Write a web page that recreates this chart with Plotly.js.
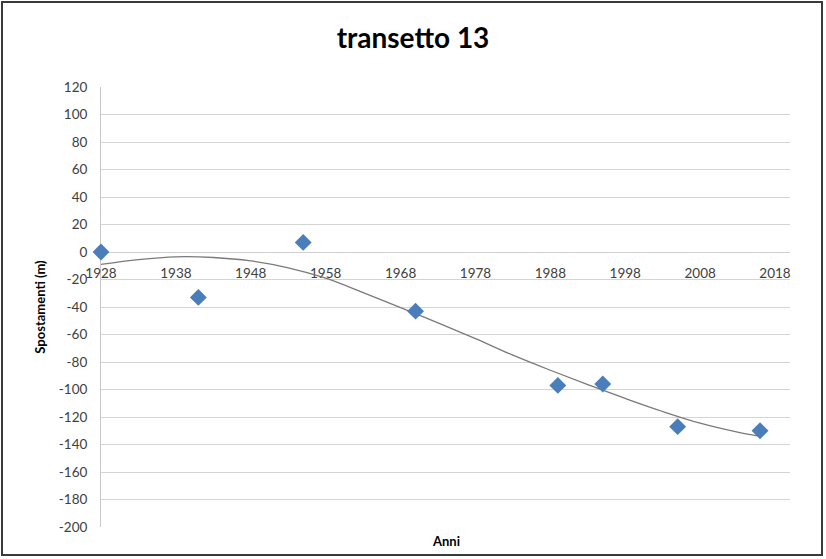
<!DOCTYPE html>
<html>
<head>
<meta charset="utf-8">
<script src="https://cdn.plot.ly/plotly-3.0.1.min.js"></script>
<style>
  html, body { margin: 0; padding: 0; background: #fff; }
  #wrap { position: relative; width: 826px; height: 559px; }
  #chart { width: 826px; height: 559px; }
  #frame { position: absolute; left: 1px; top: 1px; width: 818px; height: 551px;
           border: 2px solid #3a3a3a; pointer-events: none; }
</style>
</head>
<body>
<div id="wrap"><div id="chart"></div><div id="frame"></div></div>
<script>
// Observed data (year, displacement in m)
const years = [1928, 1941, 1955, 1970, 1989, 1995, 2005, 2016];
const spostamenti = [0, -33, 7, -43, -97, -96, -127, -130];

// Trendline
const trendYears = [1928, 1933, 1938, 1943, 1948, 1953, 1958, 1963, 1968, 1973, 1978, 1983, 1988, 1993, 1998, 2003, 2008, 2013, 2016];
const trendValues = [-9, -5.5, -3.5, -4, -6.5, -11.5, -19, -29.5, -40.5, -51.5, -63, -75, -86, -96.5, -106.5, -116, -124.5, -131, -134];

const xTicks = [1928, 1938, 1948, 1958, 1968, 1978, 1988, 1998, 2008, 2018];
const yTicks = [120, 100, 80, 60, 40, 20, 0, -20, -40, -60, -80, -100, -120, -140, -160, -180, -200];

const fontFam = 'Lato, "Open Sans", "Liberation Sans", sans-serif';

const traces = [
  {
    x: trendYears, y: trendValues, type: 'scatter', mode: 'lines',
    line: { color: '#7a7a7a', width: 1.3, shape: 'spline', smoothing: 1 },
    hoverinfo: 'skip', showlegend: false, cliponaxis: false
  },
  {
    x: years, y: spostamenti, type: 'scatter', mode: 'markers',
    marker: { symbol: 'diamond', size: 13, color: '#4a7ebb' },
    showlegend: false, cliponaxis: false
  }
];

const layout = {
  width: 826, height: 559,
  margin: { l: 101, r: 36, t: 87, b: 32, pad: 0 },
  paper_bgcolor: '#ffffff', plot_bgcolor: '#ffffff',
  font: { family: fontFam, color: '#404040' },
  title: {
    text: '<b>transetto 13</b>',
    font: { family: fontFam, size: 28, color: '#000000' },
    xref: 'container', x: 0.5, xanchor: 'center',
    yref: 'container', y: 1 - 38 / 559, yanchor: 'middle'
  },
  xaxis: {
    range: [1928, 2020],
    tickmode: 'array', tickvals: xTicks, ticktext: xTicks.map(String),
    anchor: 'free', position: 0.625,
    showgrid: false, zeroline: false,
    showline: true, linecolor: '#d0d0d0', linewidth: 1,
    ticks: '', ticklabelstandoff: 9, layer: 'below traces',
    tickfont: { family: fontFam, size: 13.5, color: '#404040' }
  },
  yaxis: {
    range: [-200, 120],
    tickmode: 'array', tickvals: yTicks, ticktext: yTicks.map(String),
    showgrid: true, gridcolor: '#d4d4d4', gridwidth: 1,
    zeroline: false,
    showline: true, linecolor: '#c8c8c8', linewidth: 1,
    ticks: '', ticklabelstandoff: 10, layer: 'below traces',
    tickfont: { family: fontFam, size: 13.5, color: '#404040' },
    title: {
      text: '<b>Spostamenti (m)</b>',
      font: { family: fontFam, size: 13, color: '#000000' },
      standoff: 10
    }
  },
  annotations: [
    {
      text: '<b>Anni</b>', xref: 'paper', yref: 'paper',
      x: 0.5, y: -0.032, xanchor: 'center', yanchor: 'middle',
      showarrow: false, font: { family: fontFam, size: 13, color: '#000000' }
    }
  ]
};

Plotly.newPlot('chart', traces, layout, { displayModeBar: false, staticPlot: true });
</script>
</body>
</html>
